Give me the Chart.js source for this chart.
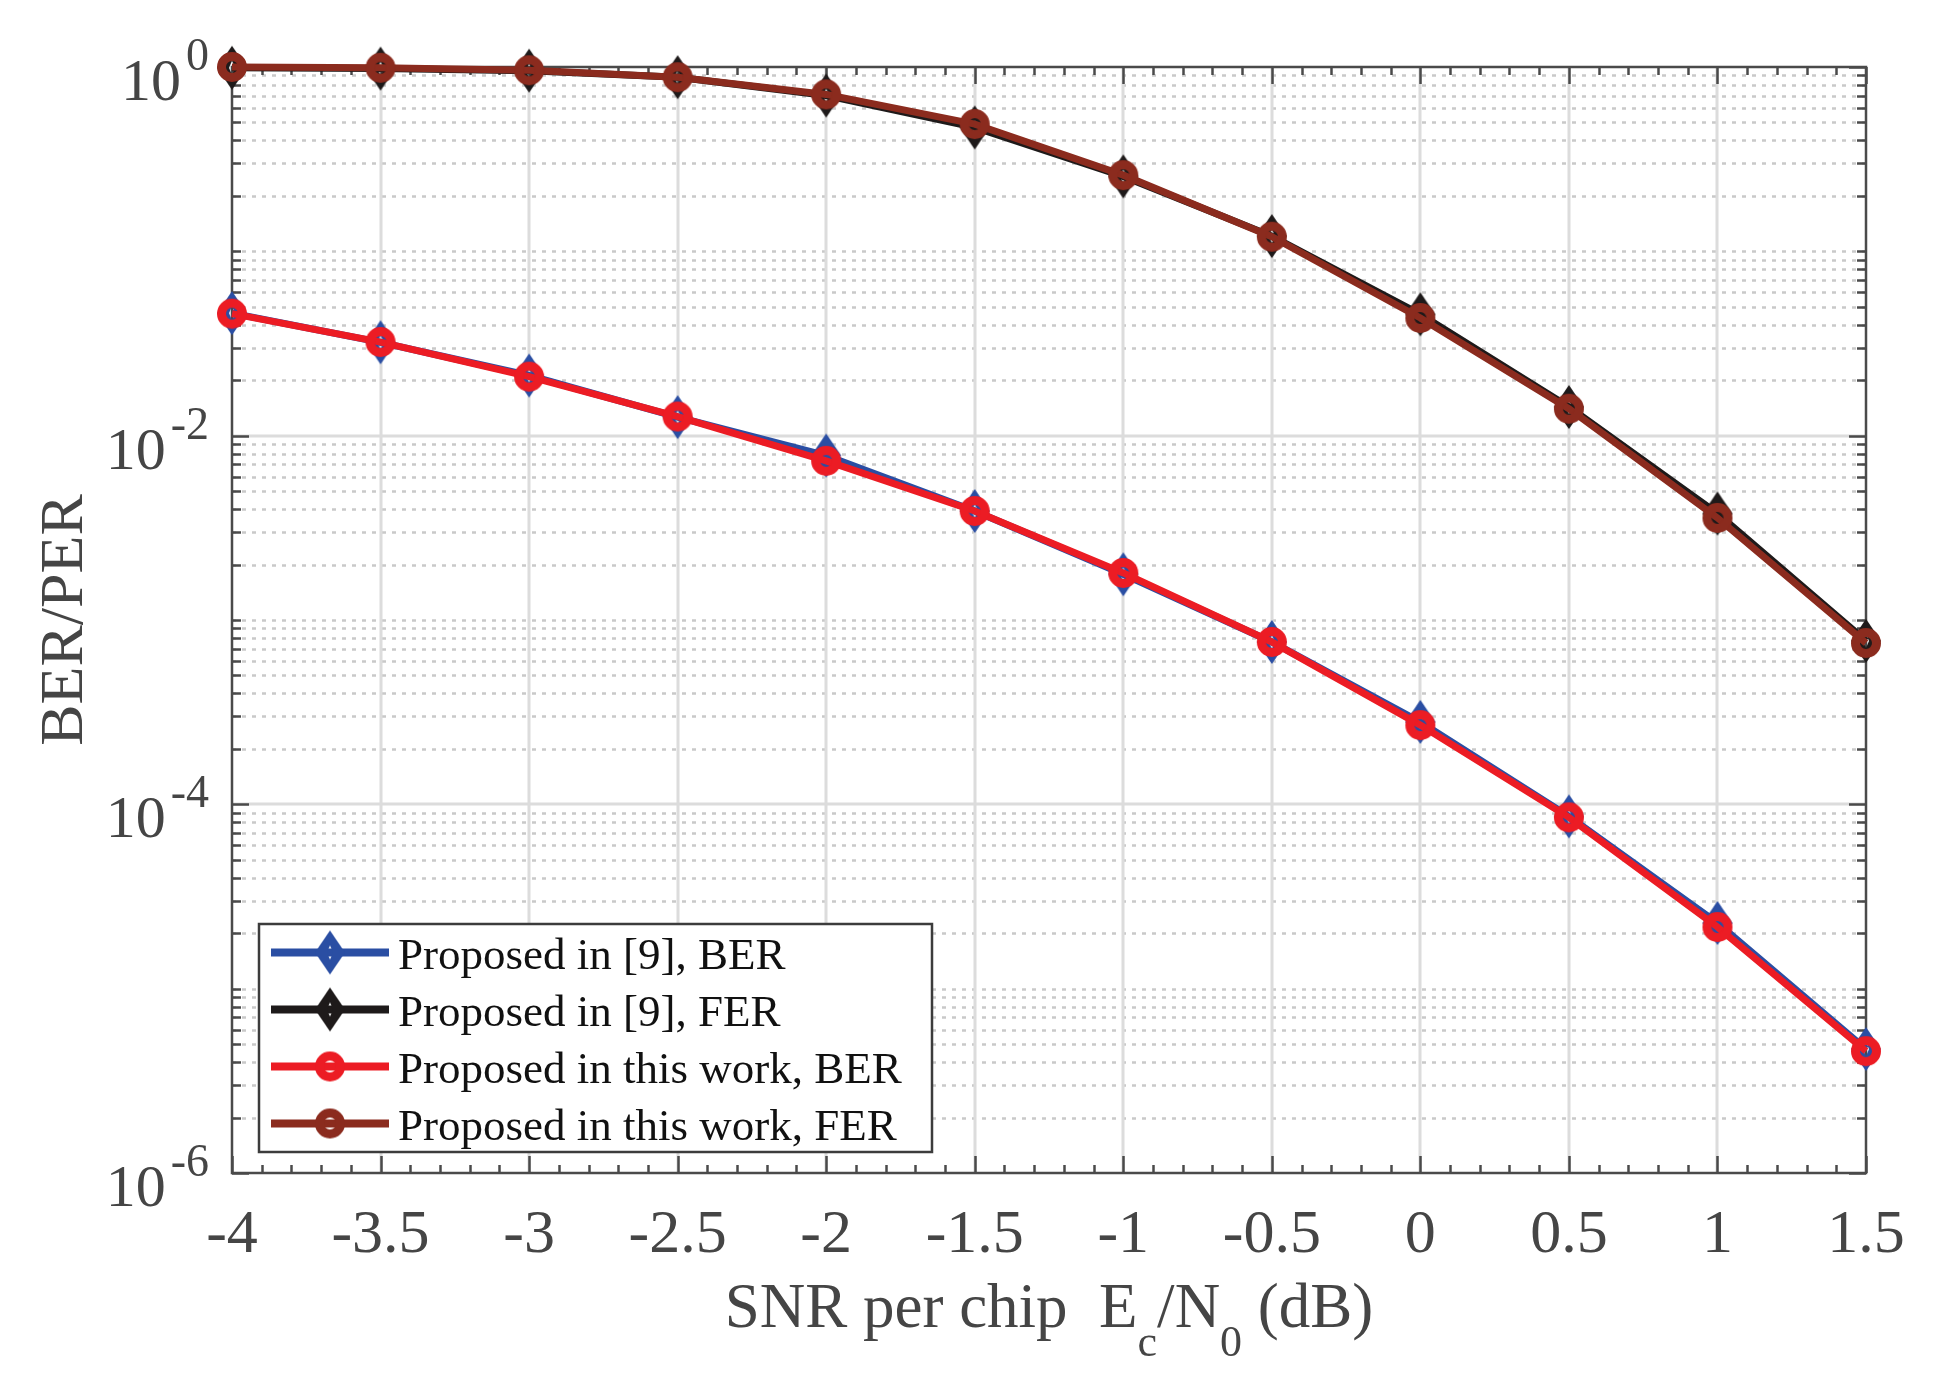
<!DOCTYPE html>
<html>
<head>
<meta charset="utf-8">
<title>BER/PER vs SNR per chip</title>
<script src="https://cdn.jsdelivr.net/npm/chart.js@4.4.1/dist/chart.umd.min.js"></script>
<style>
    html, body { margin: 0; padding: 0; background: #ffffff; }
    canvas { display: block; }
</style>
</head>
<body>
<canvas id="berChart" width="1939" height="1393"></canvas>
<script>
// SNR per chip Ec/N0 (dB)
const snrDb = [-4, -3.5, -3, -2.5, -2, -1.5, -1, -0.5, 0, 0.5, 1, 1.5];

// values
const berRef9      = [0.0462, 0.0321, 0.0212, 0.0126, 0.0078, 0.0039, 0.00177, 0.00076, 0.00028, 8.6e-5, 2.27e-5, 4.7e-6];
const ferRef9      = [0.99, 0.98, 0.955, 0.88, 0.70, 0.47, 0.255, 0.121, 0.0455, 0.0143, 0.00378, 0.00077];
const berThisWork  = [0.0459, 0.0322, 0.0209, 0.0127, 0.0073, 0.0039, 0.0018, 0.00076, 0.000269, 8.5e-5, 2.16e-5, 4.58e-6];
const ferThisWork  = [1.0, 0.99, 0.96, 0.88, 0.71, 0.49, 0.259, 0.120, 0.0435, 0.0140, 0.00358, 0.00075];

const seriesLabels = ['Proposed in [9], BER', 'Proposed in [9], FER', 'Proposed in this work, BER', 'Proposed in this work, FER'];

const xTicks = [-4, -3.5, -3, -2.5, -2, -1.5, -1, -0.5, 0, 0.5, 1, 1.5];
const yTickExponents = [0, -2, -4, -6];
const xTitleParts = [
    { text: 'SNR per chip  E', sub: false },
    { text: 'c', sub: true },
    { text: '/N', sub: false },
    { text: '0', sub: true },
    { text: ' (dB)', sub: false }
];
const yTitle = 'BER/PER';

const FONT = '"Liberation Serif", "Times New Roman", serif';
const AXIS_COLOR = '#4a4a4a';
const LABEL_COLOR = '#454545';

const COLORS = {
    blue: '#2a4ea3',
    black: '#1e1a1a',
    red: '#ec1c24',
    brown: '#8b2b1e'
};

function makeDiamond(color) {
    const c = document.createElement('canvas');
    c.width = 32;
    c.height = 46;
    const g = c.getContext('2d');
    g.fillStyle = color;
    g.beginPath();
    g.moveTo(16, 1); g.lineTo(31, 23); g.lineTo(16, 45); g.lineTo(1, 23);
    g.closePath();
    g.fill();
    // tiny hollow in the middle, like the thick-edged matlab diamond
    g.globalCompositeOperation = 'destination-out';
    g.beginPath();
    g.moveTo(16, 16); g.lineTo(19, 23); g.lineTo(16, 30); g.lineTo(13, 23);
    g.closePath();
    g.fill();
    return c;
}

function makeCircle(color) {
    const c = document.createElement('canvas');
    c.width = 34;
    c.height = 34;
    const g = c.getContext('2d');
    g.strokeStyle = color;
    g.lineWidth = 9;
    g.beginPath();
    g.arc(17, 17, 10.5, 0, Math.PI * 2);
    g.stroke();
    return c;
}

const markers = [
    makeDiamond(COLORS.blue),
    makeDiamond(COLORS.black),
    makeCircle(COLORS.red),
    makeCircle(COLORS.brown)
];
const seriesValues = [berRef9, ferRef9, berThisWork, ferThisWork];
const seriesColors = [COLORS.blue, COLORS.black, COLORS.red, COLORS.brown];
const drawOrder = [3, 2, 1, 0]; // later series sit on top, as in the figure

function line(ctx, x1, y1, x2, y2) {
    ctx.beginPath();
    ctx.moveTo(x1, y1);
    ctx.lineTo(x2, y2);
    ctx.stroke();
}

function drawGrid(chart) {
    const { ctx, chartArea: a } = chart;
    const x = chart.scales.x;
    const y = chart.scales.y;
    ctx.save();

    // minor (dotted) horizontal grid
    ctx.lineWidth = 2.5;
    ctx.strokeStyle = '#c9c9c9';
    ctx.setLineDash([4, 6]);
    for (let e = -6; e < 0; e++) {
        for (let m = 1; m <= 9; m++) {
            if (m === 1 && yTickExponents.includes(e)) continue;
            const py = Math.round(y.getPixelForValue(m * Math.pow(10, e))) + 0.5;
            line(ctx, a.left, py, a.right, py);
        }
    }

    // major grid
    ctx.setLineDash([]);
    ctx.lineWidth = 3;
    ctx.strokeStyle = '#dcdcdc';
    yTickExponents.forEach(e => {
        const py = Math.round(y.getPixelForValue(Math.pow(10, e)));
        if (py <= a.top + 1 || py >= a.bottom - 1) return;
        line(ctx, a.left, py, a.right, py);
    });
    xTicks.forEach(v => {
        const px = Math.round(x.getPixelForValue(v));
        if (px <= a.left + 1 || px >= a.right - 1) return;
        line(ctx, px, a.top, px, a.bottom);
    });
    ctx.restore();
}

function drawBox(chart) {
    const { ctx, chartArea: a } = chart;
    const x = chart.scales.x;
    const y = chart.scales.y;
    ctx.save();
    ctx.strokeStyle = AXIS_COLOR;
    ctx.lineWidth = 2.5;

    // x ticks, bottom and top, pointing inwards
    for (let i = -40; i <= 15; i++) {
        const px = Math.round(x.getPixelForValue(i / 10)) + 0.5;
        const len = (i % 5 === 0) ? 17 : 8;
        line(ctx, px, a.bottom, px, a.bottom - len);
        line(ctx, px, a.top, px, a.top + len);
    }

    // y ticks, left and right
    for (let e = -6; e <= 0; e++) {
        for (let m = 1; m <= 9; m++) {
            if (e === 0 && m > 1) break;
            const py = Math.round(y.getPixelForValue(m * Math.pow(10, e))) + 0.5;
            const len = (m === 1 && yTickExponents.includes(e)) ? 17 : 9;
            line(ctx, a.left, py, a.left + len, py);
            line(ctx, a.right, py, a.right - len, py);
        }
    }

    ctx.strokeRect(a.left, a.top, a.right - a.left, a.bottom - a.top);
    ctx.restore();
}

function drawLegend(chart) {
    const { ctx, chartArea: a } = chart;
    const left = a.left + 27;
    const top = a.bottom - 249;
    const bottom = a.bottom - 21;
    const rowH = (bottom - top) / 4;

    ctx.save();
    ctx.font = '45px ' + FONT;
    let textRight = 0;
    seriesLabels.forEach(t => { textRight = Math.max(textRight, ctx.measureText(t).width); });
    const textX = left + 139;
    const right = Math.max(left + 673, textX + textRight + 12);

    ctx.fillStyle = '#ffffff';
    ctx.fillRect(left, top, right - left, bottom - top);
    ctx.strokeStyle = '#3c3c3c';
    ctx.lineWidth = 2.5;
    ctx.strokeRect(left, top, right - left, bottom - top);

    seriesLabels.forEach((label, i) => {
        const cy = top + rowH * (i + 0.5);
        ctx.strokeStyle = seriesColors[i];
        ctx.lineWidth = 8;
        line(ctx, left + 12, cy, left + 130, cy);
        const mk = markers[i];
        ctx.drawImage(mk, left + 71 - mk.width / 2, cy - mk.height / 2);
        ctx.fillStyle = '#111111';
        ctx.textAlign = 'left';
        ctx.textBaseline = 'alphabetic';
        ctx.fillText(label, textX, cy + 16);
    });
    ctx.restore();
}

function drawLabels(chart) {
    const { ctx, chartArea: a } = chart;
    const x = chart.scales.x;
    const y = chart.scales.y;
    ctx.save();
    ctx.fillStyle = LABEL_COLOR;
    ctx.textBaseline = 'alphabetic';

    // x tick labels
    ctx.font = '62px ' + FONT;
    ctx.textAlign = 'center';
    xTicks.forEach(v => {
        ctx.fillText(String(v), x.getPixelForValue(v), a.bottom + 79);
    });

    // y tick labels 10^e
    const labelRight = a.left - 23;
    yTickExponents.forEach(e => {
        const py = y.getPixelForValue(Math.pow(10, e));
        const sup = String(e);
        ctx.font = '46px ' + FONT;
        const supW = ctx.measureText(sup).width;
        ctx.textAlign = 'left';
        ctx.fillText(sup, labelRight - supW, py + 3);
        ctx.font = '60px ' + FONT;
        ctx.textAlign = 'right';
        ctx.fillText('10', labelRight - supW - 5, py + 33);
    });

    // x axis title with subscripts
    const mainFont = '63px ' + FONT;
    const subFont = '44px ' + FONT;
    let total = 0;
    xTitleParts.forEach(p => {
        ctx.font = p.sub ? subFont : mainFont;
        p.w = ctx.measureText(p.text).width;
        total += p.w;
    });
    let cx = (a.left + a.right) / 2 - total / 2;
    const baseY = a.bottom + 154;
    ctx.textAlign = 'left';
    xTitleParts.forEach(p => {
        ctx.font = p.sub ? subFont : mainFont;
        ctx.fillText(p.text, cx, p.sub ? baseY + 29 : baseY);
        cx += p.w;
    });

    // y axis title
    ctx.font = '62px ' + FONT;
    ctx.textAlign = 'center';
    ctx.translate(a.left - 150, (a.top + a.bottom) / 2);
    ctx.rotate(-Math.PI / 2);
    ctx.fillText(yTitle, 0, 0);
    ctx.restore();
}

const matlabFrame = {
    id: 'matlabFrame',
    beforeDatasetsDraw(chart) {
        drawGrid(chart);
        drawBox(chart);
    },
    afterDatasetsDraw(chart) {
        drawLegend(chart);
    },
    afterDraw(chart) {
        drawLabels(chart);
    }
};

function buildDatasets() {
    return seriesLabels.map((label, i) => ({
        label: label,
        data: snrDb.map((s, j) => ({ x: s, y: seriesValues[i][j] })),
        borderColor: seriesColors[i],
        backgroundColor: seriesColors[i],
        borderWidth: 7,
        pointStyle: markers[i],
        pointRadius: 15,
        pointHoverRadius: 15,
        tension: 0,
        fill: false,
        clip: false,
        order: drawOrder[i]
    }));
}

function createChart() {
    const ctx = document.getElementById('berChart').getContext('2d');
    window.berChart = new Chart(ctx, {
        type: 'line',
        data: { datasets: buildDatasets() },
        options: {
            responsive: false,
            devicePixelRatio: 1,
            animation: false,
            layout: {
                padding: { left: 232, top: 67, right: 73, bottom: 220 }
            },
            scales: {
                x: { type: 'linear', min: -4, max: 1.5, display: false },
                y: { type: 'logarithmic', min: 1e-6, max: 1, display: false }
            },
            plugins: {
                legend: { display: false },
                tooltip: { enabled: false }
            }
        },
        plugins: [matlabFrame]
    });
}

if (document.fonts && document.fonts.load) {
    document.fonts.load('62px "Liberation Serif"').then(createChart, createChart);
} else {
    createChart();
}
</script>
</body>
</html>
